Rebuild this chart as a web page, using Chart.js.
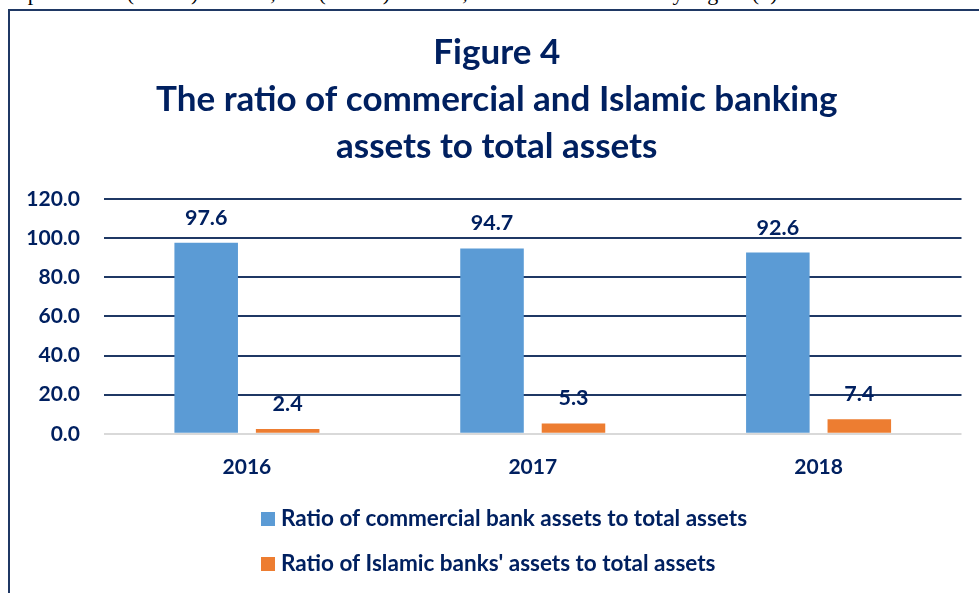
<!DOCTYPE html>
<html>
<head>
<meta charset="utf-8">
<script src="https://cdn.jsdelivr.net/npm/chart.js@4.4.1/dist/chart.umd.min.js"></script>
<style>
  html, body { margin: 0; padding: 0; background: #fff; overflow: hidden; }
  body { width: 979px; height: 593px; position: relative; }
  .text-above {
    position: absolute; right: 196px; top: -18px;
    font-family: "Liberation Serif", "Times New Roman", serif;
    font-size: 22px; line-height: 22px; white-space: nowrap; color: #000;
  }
  .frame {
    position: absolute; left: 8px; top: 9px; width: 1200px; height: 800px;
    border-left: 2px solid #1f3864; border-top: 2px solid #1f3864;
  }
  #myChart { position: absolute; left: 0; top: 0; }
</style>
</head>
<body>
<div class="text-above">of total assets, compared with (97.6%) in 2016, and (92.6%) in 2018, and this is illustrated by Figure (4).</div>
<div class="frame"></div>
<canvas id="myChart" width="979" height="593"></canvas>
<script>
const years = ['2016', '2017', '2018'];
const commercialRatio = [97.6, 94.7, 92.6];
const islamicRatio = [2.4, 5.3, 7.4];
const seriesNames = [
  'Ratio of commercial bank assets to total assets',
  "Ratio of Islamic banks' assets to total assets"
];
const titleLines = [
  'Figure 4',
  'The ratio of commercial and Islamic banking',
  'assets to total assets'
];

const navy = '#002060';
const fontFamily = 'Lato, "Open Sans", sans-serif';

// value printed above each bar
const barValues = {
  id: 'barValues',
  afterDatasetsDraw(chart) {
    const ctx = chart.ctx;
    ctx.save();
    ctx.font = 'bold 21.5px ' + fontFamily;
    ctx.fillStyle = navy;
    ctx.textAlign = 'center';
    ctx.textBaseline = 'middle';
    chart.data.datasets.forEach((ds, i) => {
      chart.getDatasetMeta(i).data.forEach((bar, j) => {
        ctx.fillText(ds.data[j].toFixed(1), bar.x, bar.y - 25);
      });
    });
    ctx.restore();
  }
};

// two-row legend, rows left aligned on the same edge
const stackedLegend = {
  id: 'stackedLegend',
  afterDraw(chart) {
    const ctx = chart.ctx;
    ctx.save();
    ctx.font = 'bold 22.5px ' + fontFamily;
    ctx.textBaseline = 'middle';
    ctx.textAlign = 'left';
    chart.data.datasets.forEach((ds, i) => {
      const y = 519 + i * 45;
      ctx.fillStyle = ds.backgroundColor;
      ctx.fillRect(261, y - 7, 14, 14);
      ctx.fillStyle = navy;
      ctx.fillText(ds.label, 281, y);
    });
    ctx.restore();
  }
};

// widen the y scale box to the left so its labels are not clipped
const yLabelRoom = {
  id: 'yLabelRoom',
  afterLayout(chart) {
    chart.scales.y.left = 12;
  }
};

const data = {
  labels: years,
  datasets: [{
    label: seriesNames[0],
    data: commercialRatio,
    backgroundColor: '#5b9bd5',
    categoryPercentage: 0.57,
    barPercentage: 0.78
  }, {
    label: seriesNames[1],
    data: islamicRatio,
    backgroundColor: '#ed7d31',
    categoryPercentage: 0.57,
    barPercentage: 0.78
  }]
};

const config = {
  type: 'bar',
  data: data,
  options: {
    responsive: false,
    animation: false,
    layout: { padding: { left: 32, right: 17.5, top: 0, bottom: 100 } },
    plugins: {
      legend: { display: false },
      tooltip: { enabled: false },
      title: {
        display: true,
        text: titleLines,
        color: navy,
        font: { family: fontFamily, size: 35, weight: 'bold', lineHeight: 1.343 },
        padding: { top: 29, bottom: 29 }
      }
    },
    scales: {
      x: {
        grid: { display: false },
        border: { display: false },
        ticks: {
          color: navy,
          font: { family: fontFamily, size: 21, weight: 'bold' },
          padding: 13
        }
      },
      y: {
        min: 0,
        max: 120,
        afterFit(scale) { scale.width = 72; },
        border: { display: false },
        grid: {
          drawTicks: false,
          lineWidth: 2,
          color: ctx => ctx.tick && ctx.tick.value === 0 ? '#d9d9d9' : '#1f3864'
        },
        ticks: {
          stepSize: 20,
          padding: 24,
          color: navy,
          font: { family: fontFamily, size: 21, weight: 'bold' },
          callback: v => v.toFixed(1)
        }
      }
    }
  },
  plugins: [barValues, stackedLegend, yLabelRoom]
};

const ctx = document.getElementById('myChart').getContext('2d');
const myBarChart = new Chart(ctx, config);
</script>
</body>
</html>
